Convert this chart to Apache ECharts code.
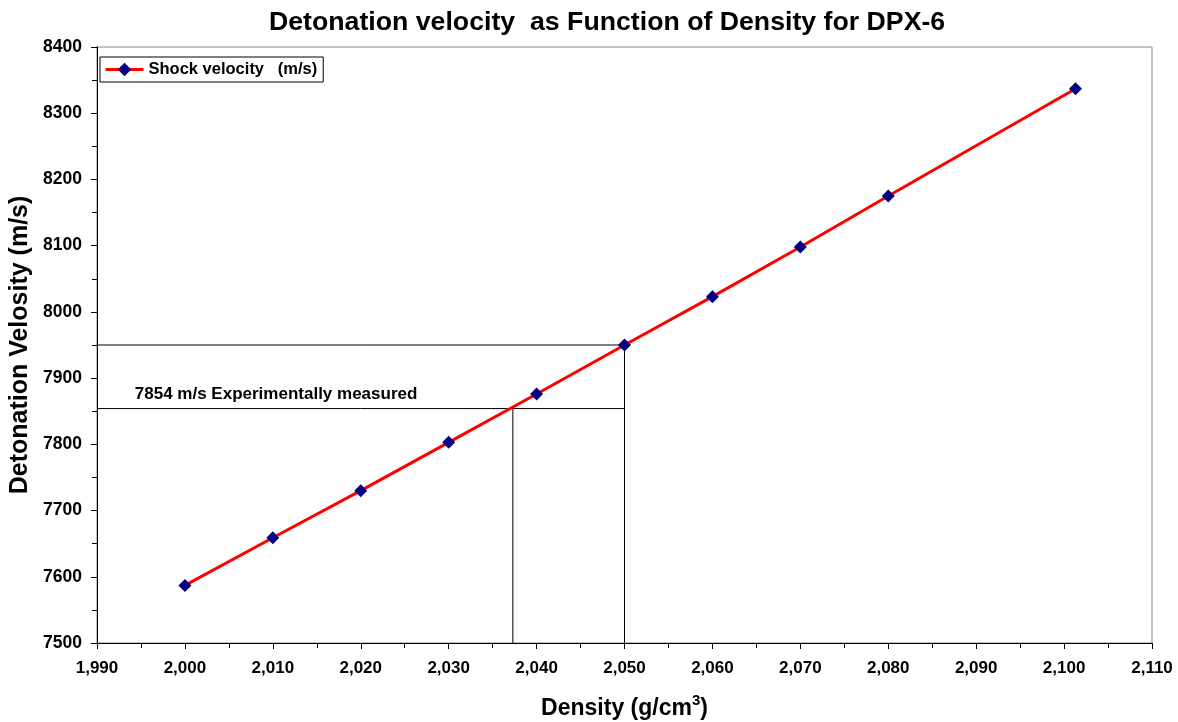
<!DOCTYPE html>
<html>
<head>
<meta charset="utf-8">
<script src="https://cdn.jsdelivr.net/npm/echarts@6/dist/echarts.min.js"></script>
<style>
  html, body { margin: 0; padding: 0; background: #fff; }
  #chart { width: 1178px; height: 722px; }
</style>
</head>
<body>
<div id="chart"></div>
<script>
// density (g/cm3) and detonation velocity (m/s)
const density = [2.000, 2.010, 2.020, 2.030, 2.040, 2.050, 2.060, 2.070, 2.080, 2.1013];
const velocity = [7587, 7659, 7730, 7803, 7876, 7950, 8023, 8098, 8175, 8337];

// guide lines
const guide7950 = [[1.990, 7950], [2.050, 7950], [2.050, 7500]];
const guide7854 = [[1.990, 7854], [2.050, 7854]];
const guideVert = [[2.0373, 7854], [2.0373, 7500]];
const noteText = '7854 m/s Experimentally measured';
const notePos = [[1.9943, 7854]];

const font = 'Arial, "Liberation Sans", sans-serif';

const chart = echarts.init(document.getElementById('chart'));

const guideLine = (data) => ({
  type: 'line',
  data,
  symbol: 'none',
  silent: true,
  lineStyle: { color: '#000', width: 1 },
  z: 1
});

chart.setOption({
  animation: false,
  title: {
    text: 'Detonation velocity  as Function of Density for DPX-6',
    left: 264,
    top: 4,
    textStyle: { fontFamily: font, fontWeight: 'bold', fontSize: 26.7, color: '#000' }
  },
  legend: {
    data: ['Shock velocity   (m/s)'],
    left: 100,
    top: 57,
    orient: 'vertical',
    backgroundColor: '#fff',
    borderColor: '#000',
    borderWidth: 1,
    borderRadius: 0,
    padding: [4, 6, 4, 4],
    itemWidth: 38,
    itemHeight: 17,
    itemGap: 4,
    lineStyle: { width: 3 },
    textStyle: { fontFamily: font, fontWeight: 'bold', fontSize: 16.5, color: '#000' }
  },
  grid: {
    left: 97,
    right: 26,
    top: 47,
    bottom: 79,
    outerBoundsMode: 'none',
    containLabel: false,
    show: true,
    borderColor: '#888',
    borderWidth: 1
  },
  xAxis: {
    type: 'value',
    min: 1.990,
    max: 2.110,
    interval: 0.010,
    name: '{a|Density (g/cm}{s|3}{a|)}',
    nameLocation: 'middle',
    nameGap: 50,
    nameTextStyle: {
      rich: {
        a: { fontFamily: font, fontWeight: 'bold', fontSize: 23, color: '#000' },
        s: { fontFamily: font, fontWeight: 'bold', fontSize: 15, color: '#000', padding: [0, 0, 17, 0] }
      }
    },
    axisLine: { lineStyle: { color: '#000', width: 1 } },
    axisTick: { inside: false, length: 6, lineStyle: { color: '#000' } },
    minorTick: { show: true, splitNumber: 2, length: 5, lineStyle: { color: '#000' } },
    splitLine: { show: false },
    axisLabel: {
      margin: 17,
      fontFamily: font,
      fontWeight: 'bold',
      fontSize: 17,
      color: '#000',
      formatter: v => v.toFixed(3).replace('.', ',')
    }
  },
  yAxis: {
    type: 'value',
    min: 7500,
    max: 8400,
    interval: 100,
    name: 'Detonation Velosity (m/s)',
    nameLocation: 'middle',
    nameGap: 64,
    nameTextStyle: { fontFamily: font, fontWeight: 'bold', fontSize: 25, color: '#000' },
    axisLine: { show: true, lineStyle: { color: '#000', width: 1 } },
    axisTick: { show: true, inside: false, length: 6, lineStyle: { color: '#000' } },
    minorTick: { show: true, splitNumber: 2, length: 5, lineStyle: { color: '#000' } },
    splitLine: { show: false },
    axisLabel: {
      margin: 15,
      fontFamily: font,
      fontWeight: 'bold',
      fontSize: 17.5,
      color: '#000',
      formatter: v => String(v)
    }
  },
  series: [
    guideLine(guide7950),
    guideLine(guide7854),
    guideLine(guideVert),
    {
      type: 'scatter',
      data: notePos,
      symbolSize: 0,
      silent: true,
      itemStyle: { opacity: 1 },
      label: {
        show: true,
        position: 'right',
        distance: 0,
        offset: [0, -14],
        formatter: noteText,
        fontFamily: font,
        fontWeight: 'bold',
        fontSize: 17,
        color: '#000'
      }
    },
    {
      name: 'Shock velocity   (m/s)',
      type: 'line',
      data: density.map((d, i) => [d, velocity[i]]),
      symbol: 'diamond',
      symbolSize: 13,
      showAllSymbol: true,
      lineStyle: { color: '#ff0000', width: 3 },
      itemStyle: { color: '#000080' },
      z: 3
    }
  ]
});
</script>
</body>
</html>
